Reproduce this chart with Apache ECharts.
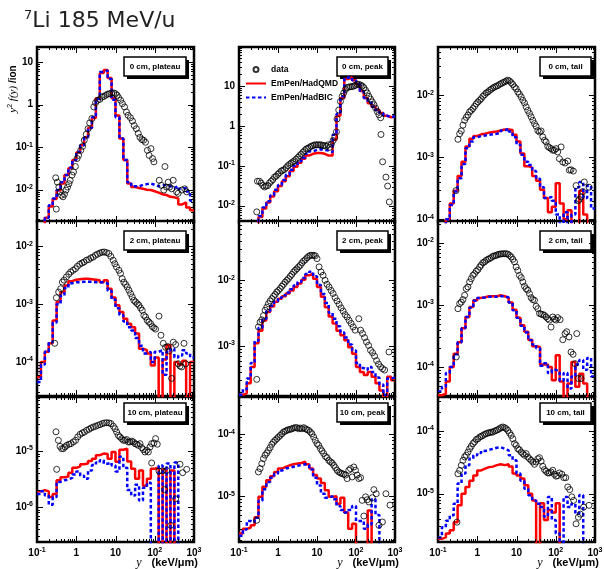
<!DOCTYPE html>
<html>
<head>
    <meta charset="utf-8">
    <title>7Li 185 MeV/u</title>
    <script src="https://cdn.jsdelivr.net/npm/echarts@6/dist/echarts.min.js"></script>
    <style>
        html, body { margin: 0; padding: 0; background: #fff; }
        #chart { width: 604px; height: 569px; }
    </style>
</head>
<body>
<div id="chart"></div>
<script type="text/javascript">
    // histogram bin edges (10 bins per decade, 0.1 .. 1000 keV/um)
    const edges = [0.1, 0.1259, 0.1585, 0.1995, 0.2512, 0.3162, 0.3981, 0.5012, 0.631, 0.7943,
        1, 1.259, 1.585, 1.995, 2.512, 3.162, 3.981, 5.012, 6.31, 7.943,
        10, 12.59, 15.85, 19.95, 25.12, 31.62, 39.81, 50.12, 63.1, 79.43,
        100, 125.9, 158.5, 199.5, 251.2, 316.2, 398.1, 501.2, 631, 794.3, 1000];

    // ---- 0 cm ----
    const qmd0Plateau = [0, 0, 2.2e-3, 4.0e-3, 6.0e-3, 9.5e-3, 0.014, 0.022, 0.032, 0.05,
        0.075, 0.11, 0.17, 0.28, 0.48, 1.4, 5.5, 6.5, 4.2, 1.4,
        0.55, 0.16, 0.05, 0.014, 0.0115, 0.011, 0.0105, 0.010, 0.0098, 0.0092,
        0.0085, 0.0078, 0.0075, 0.0068, 0.0066, 0.0062, 0.0045, 0.005, 0.0038, 0.0033];
    const bic0Plateau = [0, 0, 2.2e-3, 4.3e-3, 6.2e-3, 9.8e-3, 0.015, 0.022, 0.033, 0.05,
        0.078, 0.11, 0.17, 0.28, 0.5, 1.35, 5.8, 6.3, 4.0, 1.3,
        0.5, 0.16, 0.05, 0.015, 0.012, 0.012, 0.013, 0.0135, 0.014, 0.013,
        0.012, 0.0125, 0.013, 0.012, 0.011, 0.012, 0.0105, 0.011, 0.009, 0.0055];
    const data0Plateau = [[0.30,0.019],[0.31,0.0035],[0.33,0.015],[0.36,0.0115],[0.39,0.0089],[0.42,0.0074],
        [0.46,0.0068],[0.50,0.0078],[0.55,0.0098],[0.60,0.0115],[0.65,0.0138],[0.70,0.0165],[0.78,0.022],
        [0.85,0.026],[0.95,0.035],[1.05,0.054],[1.15,0.064],[1.3,0.084],[1.45,0.104],[1.6,0.145],[1.8,0.20],
        [2.0,0.27],[2.2,0.37],[2.5,0.47],[2.8,0.88],[3.1,1.1],[3.5,1.26],[4.0,1.33],[4.5,1.5],[5.0,1.55],
        [5.6,1.65],[6.3,1.75],[7.0,1.8],[8.0,1.87],[9.0,1.87],[10,1.8],[11,1.65],[12,1.45],[13.5,1.26],
        [15,1.05],[17,0.88],[19,0.67],[21,0.56],[24,0.49],[27,0.41],[30,0.32],[34,0.27],[38,0.21],[42,0.17],
        [47,0.15],[52,0.145],[58,0.13],[65,0.084],[72,0.064],[80,0.092],[88,0.054],[95,0.045],[182,0.035],
        [130,0.0166],[148,0.0126],[170,0.0098],[200,0.0115],[220,0.015],[240,0.0115],[270,0.0105],
        [295,0.0166],[360,0.0089],[395,0.0082],[490,0.0098],[580,0.0105],[650,0.0089]];

    const qmd0Peak = [0, 0, 0, 0, 0, 0.0052, 0.0085, 0.012, 0.017, 0.023,
        0.031, 0.041, 0.055, 0.074, 0.095, 0.12, 0.15, 0.18, 0.20, 0.21,
        0.21, 0.20, 0.18, 0.18, 0.45, 1.8, 5.0, 15, 16.5, 14,
        11, 7.5, 5.0, 3.7, 3.0, 2.5, 2.1, 1.8, 1.65, 1.7];
    const bic0Peak = [0, 0, 0, 0, 0, 0.0055, 0.009, 0.013, 0.018, 0.025,
        0.033, 0.044, 0.06, 0.08, 0.10, 0.13, 0.16, 0.20, 0.23, 0.25,
        0.26, 0.25, 0.24, 0.22, 0.6, 2.0, 5.5, 16, 16.5, 14,
        11, 7.2, 5.0, 3.8, 3.0, 2.5, 2.1, 1.8, 1.65, 1.75];
    const data0Peak = [[0.285,0.007],[0.296,0.041],[0.334,0.041],[0.369,0.037],[0.407,0.032],[0.449,0.0295],
        [0.496,0.031],[0.547,0.032],[0.604,0.037],[0.667,0.041],[0.736,0.045],[0.813,0.052],[0.897,0.055],
        [0.99,0.061],[1.09,0.067],[1.21,0.074],[1.33,0.077],[1.47,0.081],[1.62,0.09],[1.79,0.10],[1.98,0.109],
        [2.18,0.117],[2.41,0.126],[2.66,0.134],[2.94,0.147],[3.24,0.162],[3.58,0.18],[3.95,0.197],[4.36,0.218],
        [4.81,0.24],[5.31,0.264],[5.86,0.275],[6.47,0.292],[7.15,0.31],[7.89,0.32],[8.7,0.335],[9.6,0.335],
        [10.6,0.335],[11.7,0.335],[12.9,0.335],[14.3,0.32],[15.7,0.32],[17.4,0.31],[19.2,0.335],[21.2,0.29],
        [23.4,0.35],[25.8,0.43],[28.5,0.52],[31.5,0.71],[32.7,1.49],[36.1,2.5],[39.9,4.1],[44,5.5],[48.6,6.7],
        [53.7,8.2],[59.3,9.1],[65.3,9.4],[72.1,9.6],[79.6,9.6],[87.9,10],[97,10.4],[107,11],[118,11],[131,10.6],
        [144,10],[159,9.1],[176,7.8],[194,6.7],[214,5.5],[236,4.7],[261,4.0],[288,3.4],[318,2.8],[351,2.3],
        [387,1.9],[428,1.6],[437,0.61],[481,0.126],[586,0.052],[647,0.031],[715,0.0124]];

    const qmd0Tail = [0, 0, 1.0e-4, 1.8e-4, 2.9e-4, 5.0e-4, 8.5e-4, 1.5e-3, 2.0e-3, 2.2e-3,
        2.35e-3, 2.4e-3, 2.5e-3, 2.55e-3, 2.6e-3, 2.7e-3, 2.8e-3, 2.8e-3, 2.75e-3, 2.3e-3,
        1.8e-3, 1.15e-3, 7.2e-4, 6.8e-4, 5.0e-4, 4.2e-4, 3.0e-4, 2.2e-4, 1.3e-4, 1.6e-4,
        3.8e-4, 1.8e-4, 1.0e-4, 1.4e-4, 0, 0, 2.9e-4, 1.2e-4, 0, 0];
    const bic0Tail = [0, 0, 1.0e-4, 1.7e-4, 2.8e-4, 4.6e-4, 7.8e-4, 1.4e-3, 1.8e-3, 2.1e-3,
        2.2e-3, 2.25e-3, 2.3e-3, 2.35e-3, 2.4e-3, 2.5e-3, 2.7e-3, 2.9e-3, 2.6e-3, 2.1e-3,
        1.6e-3, 1.1e-3, 8.5e-4, 7.5e-4, 6.0e-4, 4.5e-4, 3.3e-4, 2.2e-4, 2.3e-4, 2.0e-4,
        1.2e-4, 0, 1.3e-4, 0, 1.2e-4, 3.3e-4, 4.0e-4, 2.2e-4, 3.5e-4, 1.5e-4];
    const data0Tail = [[0.287,2.9e-4],[0.322,1.95e-3],[0.356,2.4e-3],[0.392,2.66e-3],[0.432,3.3e-3],[0.477,3.95e-3],
        [0.525,4.4e-3],[0.579,4.8e-3],[0.638,5.4e-3],[0.703,5.7e-3],[0.776,6.1e-3],[0.855,6.65e-3],[0.944,7.3e-3],
        [1.04,7.8e-3],[1.15,8.3e-3],[1.26,8.8e-3],[1.39,9.6e-3],[1.54,1.02e-2],[1.69,1.09e-2],[1.87,1.13e-2],
        [2.06,1.2e-2],[2.27,1.25e-2],[2.5,1.31e-2],[2.76,1.36e-2],[3.04,1.4e-2],[3.35,1.43e-2],[3.7,1.5e-2],
        [4.07,1.54e-2],[4.49,1.6e-2],[4.95,1.64e-2],[5.46,1.7e-2],[6.02,1.75e-2],[6.64,1.7e-2],[7.32,1.6e-2],
        [8.07,1.49e-2],[8.9,1.36e-2],[9.8,1.28e-2],[10.8,1.13e-2],[11.9,1.04e-2],[13.2,9.4e-3],[14.5,8.3e-3],
        [16.0,7.5e-3],[17.6,6.5e-3],[19.4,5.7e-3],[21.4,5.1e-3],[23.6,4.5e-3],[26,3.95e-3],[28.7,3.5e-3],
        [31.6,3.16e-3],[34.9,2.7e-3],[38.5,2.56e-3],[42.4,2.66e-3],[46.7,2.13e-3],[51.5,1.88e-3],[56.8,1.77e-3],
        [62.6,1.5e-3],[69,1.43e-3],[76,1.38e-3],[83.9,1.3e-3],[92.5,1.3e-3],[102,1.38e-3],[112,1.22e-3],
        [124,9.5e-4],[137,1.47e-3],[151,8.4e-4],[173,8.1e-4],[202,8.7e-4],[222,6.2e-4],[245,6.3e-4],[281,6.0e-4],
        [329,3.5e-4],[377,2.0e-4],[400,2.1e-4],[441,2.3e-4],[486,2.8e-4],[535,4.0e-4],[703,3.3e-4]];

    // ---- 2 cm ----
    const qmd2Plateau = [5.5e-5, 1.0e-4, 1.5e-4, 2.1e-4, 5.2e-4, 1.1e-3, 1.6e-3, 2.1e-3, 2.5e-3, 2.65e-3,
        2.7e-3, 2.75e-3, 2.75e-3, 2.7e-3, 2.65e-3, 2.6e-3, 2.4e-3, 2.6e-3, 1.85e-3, 1.3e-3,
        9.6e-4, 7.3e-4, 5.6e-4, 4.6e-4, 4.0e-4, 3.1e-4, 1.7e-4, 1.6e-4, 1.4e-4, 8.7e-5,
        1.2e-4, 0, 1.1e-4, 1.95e-4, 0, 1.0e-4, 9.0e-5, 1.05e-4, 0, 1.0e-4];
    const bic2Plateau = [4.5e-5, 9.0e-5, 1.5e-4, 2.2e-4, 4.8e-4, 1.0e-3, 1.4e-3, 1.9e-3, 2.3e-3, 2.4e-3,
        2.4e-3, 2.45e-3, 2.45e-3, 2.45e-3, 2.4e-3, 2.4e-3, 2.4e-3, 2.3e-3, 1.7e-3, 1.2e-3,
        8.5e-4, 6.5e-4, 5.0e-4, 4.0e-4, 3.5e-4, 2.6e-4, 1.9e-4, 1.4e-4, 1.5e-4, 1.0e-4,
        1.5e-4, 1.6e-4, 6.0e-5, 1.5e-4, 1.7e-4, 1.2e-4, 1.3e-4, 1.6e-4, 1.4e-4, 1.2e-4];
    const data2Plateau = [[0.283,2.1e-4],[0.312,1.29e-3],[0.357,1.62e-3],[0.402,1.85e-3],[0.443,2.4e-3],[0.489,2.6e-3],
        [0.561,2.95e-3],[0.644,3.3e-3],[0.724,3.6e-3],[0.83,3.85e-3],[0.952,4.1e-3],[1.07,4.5e-3],[1.23,4.9e-3],
        [1.41,5.15e-3],[1.58,5.35e-3],[1.82,5.75e-3],[2.09,5.9e-3],[2.35,6.3e-3],[2.69,6.5e-3],[3.08,7.0e-3],
        [3.47,7.3e-3],[3.98,7.65e-3],[4.57,7.9e-3],[5.14,7.98e-3],[5.89,7.8e-3],[6.76,7.5e-3],[7.6,6.7e-3],
        [8.72,5.75e-3],[9.6,5.0e-3],[10.6,4.4e-3],[12.2,3.85e-3],[13.4,3.4e-3],[14.8,2.76e-3],[16.3,2.4e-3],
        [18.0,2.2e-3],[19.9,1.98e-3],[21.9,1.74e-3],[24.2,1.52e-3],[26.7,1.33e-3],[29.4,1.16e-3],[32.4,1.09e-3],
        [35.7,1.02e-3],[39.5,9.6e-4],[43.5,8.6e-4],[48,7.8e-4],[52.9,6.4e-4],[58.3,6.0e-4],[64.4,5.25e-4],
        [71,4.9e-4],[78.3,4.6e-4],[86.4,4.1e-4],[95.3,3.9e-4],[105,3.7e-4],[128,6.2e-4],[144,2.9e-4],[165,2.1e-4],
        [189,1.8e-4],[213,1.85e-4],[234,1.55e-4],[269,5.2e-5],[297,2.2e-4],[340,2.0e-4],[398,9.3e-5],[440,8.5e-5],
        [484,8.2e-5],[556,2.1e-4],[613,9.3e-5]];

    const qmd2Peak = [1.8e-4, 1.9e-4, 2.7e-4, 4.8e-4, 1.1e-3, 1.7e-3, 2.45e-3, 3.3e-3, 4.0e-3, 4.7e-3,
        5.25e-3, 5.7e-3, 6.3e-3, 7.0e-3, 7.9e-3, 8.9e-3, 1.02e-2, 1.19e-2, 1.26e-2, 1.06e-2,
        7.9e-3, 5.6e-3, 3.9e-3, 2.8e-3, 2.2e-3, 1.7e-3, 1.45e-3, 1.22e-3, 9.6e-4, 7.6e-4,
        4.8e-4, 4.0e-4, 3.6e-4, 4.0e-4, 3.4e-4, 2.7e-4, 2.1e-4, 0, 3.4e-4, 3.0e-4];
    const bic2Peak = [1.8e-4, 2.2e-4, 3.2e-4, 5.5e-4, 1.2e-3, 1.9e-3, 2.6e-3, 3.4e-3, 4.1e-3, 4.8e-3,
        5.4e-3, 5.9e-3, 6.5e-3, 7.3e-3, 8.3e-3, 9.4e-3, 1.08e-2, 1.25e-2, 1.35e-2, 1.15e-2,
        8.5e-3, 6.2e-3, 4.5e-3, 3.2e-3, 2.6e-3, 2.0e-3, 1.6e-3, 1.35e-3, 1.05e-3, 8.5e-4,
        5.5e-4, 4.6e-4, 4.3e-4, 4.8e-4, 4.0e-4, 3.3e-4, 2.6e-4, 1.8e-4, 3.2e-4, 3.3e-4];
    const data2Peak = [[0.285,3.1e-4],[0.315,1.95e-3],[0.347,2.3e-3],[0.384,2.5e-3],[0.423,2.9e-3],[0.467,3.5e-3],
        [0.516,3.9e-3],[0.569,4.4e-3],[0.628,4.85e-3],[0.694,5.25e-3],[0.766,5.7e-3],[0.845,6.1e-3],[0.933,6.65e-3],
        [1.03,7.0e-3],[1.14,7.5e-3],[1.26,8.1e-3],[1.39,8.7e-3],[1.53,9.4e-3],[1.69,1.0e-2],[1.86,1.06e-2],
        [2.06,1.15e-2],[2.27,1.23e-2],[2.51,1.34e-2],[2.77,1.42e-2],[3.05,1.5e-2],[3.37,1.6e-2],[3.72,1.69e-2],
        [4.11,1.84e-2],[4.54,1.97e-2],[5.01,2.06e-2],[5.53,2.2e-2],[6.1,2.32e-2],[6.73,2.4e-2],[7.43,2.4e-2],
        [8.2,2.4e-2],[9.06,2.37e-2],[10,2.14e-2],[11.3,1.6e-2],[12.7,1.34e-2],[14.3,1.19e-2],[16.1,1.0e-2],
        [18.1,8.7e-3],[20.4,7.9e-3],[23,7.0e-3],[25.8,6.3e-3],[29.1,5.45e-3],[32.7,4.85e-3],[36.9,4.3e-3],
        [41.5,3.8e-3],[46.8,3.4e-3],[52.6,3.0e-3],[59.3,2.76e-3],[66.7,2.45e-3],[75.1,2.2e-3],[84.5,1.95e-3],
        [95.3,1.74e-3],[118,2.6e-3],[131,1.74e-3],[147,1.55e-3],[166,1.34e-3],[186,1.15e-3],[210,1.02e-3],
        [236,8.6e-4],[266,7.9e-4],[299,7.0e-4],[337,6.0e-4],[379,5.3e-4],[428,4.8e-4],[481,4.5e-4],[542,4.3e-4],
        [700,8.1e-4]];

    const qmd2Tail = [3.5e-5, 3.7e-5, 5.8e-5, 1.0e-4, 1.64e-4, 2.5e-4, 4.2e-4, 6.4e-4, 9.3e-4, 1.19e-3,
        1.3e-3, 1.33e-3, 1.38e-3, 1.38e-3, 1.38e-3, 1.43e-3, 1.38e-3, 1.3e-3, 1.1e-3, 8.4e-4,
        6.2e-4, 4.7e-4, 3.7e-4, 2.75e-4, 2.15e-4, 2.1e-4, 1.1e-4, 1.1e-4, 1.0e-4, 6.1e-5,
        1.55e-4, 5.8e-5, 0, 5.4e-5, 1.2e-4, 4.8e-5, 7.8e-5, 5.4e-5, 0, 0];
    const bic2Tail = [4.0e-5, 4.8e-5, 8.0e-5, 1.0e-4, 1.6e-4, 2.5e-4, 4.2e-4, 6.4e-4, 9.0e-4, 1.17e-3,
        1.3e-3, 1.32e-3, 1.35e-3, 1.35e-3, 1.35e-3, 1.38e-3, 1.38e-3, 1.32e-3, 1.1e-3, 8.2e-4,
        6.2e-4, 4.6e-4, 3.6e-4, 2.7e-4, 2.3e-4, 2.0e-4, 1.05e-4, 1.15e-4, 8.0e-5, 9.0e-5,
        8.5e-5, 6.0e-5, 8.0e-5, 4.5e-5, 7.0e-5, 1.1e-4, 1.3e-4, 9.0e-5, 1.4e-4, 7.0e-5];
    const data2Tail = [[0.292,1.45e-4],[0.322,8.7e-4],[0.356,1.05e-3],[0.392,1.11e-3],[0.432,1.22e-3],[0.477,1.43e-3],
        [0.525,1.83e-3],[0.579,1.95e-3],[0.638,2.35e-3],[0.703,2.65e-3],[0.776,3.0e-3],[0.855,3.2e-3],[0.944,3.5e-3],
        [1.04,3.7e-3],[1.15,4.1e-3],[1.26,4.4e-3],[1.39,4.8e-3],[1.54,4.95e-3],[1.69,5.25e-3],[1.87,5.45e-3],
        [2.06,5.6e-3],[2.27,5.8e-3],[2.5,6.1e-3],[2.76,6.2e-3],[3.04,6.3e-3],[3.35,6.5e-3],[3.7,6.6e-3],
        [4.07,6.65e-3],[4.49,6.7e-3],[4.95,6.7e-3],[5.46,6.7e-3],[6.02,6.6e-3],[6.64,6.3e-3],[7.32,5.95e-3],
        [8.07,5.45e-3],[8.9,4.95e-3],[9.8,4.1e-3],[10.8,3.6e-3],[11.9,3.0e-3],[13.2,2.75e-3],[14.5,2.35e-3],
        [16.0,2.0e-3],[17.6,1.83e-3],[19.4,1.73e-3],[21.4,1.52e-3],[23.6,1.31e-3],[26,1.22e-3],[28.7,1.19e-3],
        [31.6,9.5e-4],[34.9,8.7e-4],[38.5,7.3e-4],[42.4,7.1e-4],[46.7,7.0e-4],[51.5,6.8e-4],[56.8,6.4e-4],
        [62.6,6.0e-4],[69,5.7e-4],[76,4.4e-4],[84,6.4e-4],[92.5,5.9e-4],[102,5.7e-4],[112,6.25e-4],[129,5.8e-4],
        [151,2.75e-4],[173,3.45e-4],[190,3.7e-4],[218,3.05e-4],[245,1.74e-4],[276,1.6e-4],[311,1.13e-4],
        [343,3.45e-4],[377,6.5e-5],[440,6.5e-5]];

    // ---- 10 cm ----
    const qmd10Plateau = [1.9e-6, 2.0e-6, 1.9e-6, 1.5e-6, 1.7e-6, 3.0e-6, 3.4e-6, 3.5e-6, 4.1e-6, 5.0e-6,
        5.3e-6, 5.8e-6, 6.0e-6, 6.6e-6, 7.3e-6, 8.4e-6, 9.0e-6, 8.8e-6, 7.3e-6, 9.6e-6,
        6.4e-6, 1.05e-5, 1.1e-5, 6.5e-6, 4.8e-6, 3.2e-6, 4.5e-6, 2.4e-6, 3.2e-6, 4.8e-6,
        5.0e-6, 0, 4.7e-6, 0, 4.5e-6, 0, 0, 0, 0, 0];
    const bic10Plateau = [1.7e-6, 1.9e-6, 1.6e-6, 1.1e-6, 1.5e-6, 2.8e-6, 3.0e-6, 3.1e-6, 3.3e-6, 3.8e-6,
        4.3e-6, 3.6e-6, 3.2e-6, 4.5e-6, 5.6e-6, 6.2e-6, 6.8e-6, 5.9e-6, 6.2e-6, 5.5e-6,
        4.3e-6, 7.9e-6, 5.0e-6, 2.0e-6, 1.6e-6, 2.5e-6, 1.3e-6, 2.2e-6, 2.7e-6, 0,
        0, 5.5e-6, 0, 6.0e-6, 0, 6.2e-6, 0, 0, 0, 0];
    const data10Plateau = [[0.305,2.2e-5],[0.317,4.7e-6],[0.35,1.55e-5],[0.386,1.21e-5],[0.425,1.1e-5],[0.469,1.1e-5],
        [0.517,1.18e-5],[0.57,1.26e-5],[0.653,1.32e-5],[0.735,1.35e-5],[0.843,1.45e-5],[0.966,1.55e-5],[1.09,1.78e-5],
        [1.25,1.98e-5],[1.43,2.1e-5],[1.61,2.18e-5],[1.84,2.34e-5],[2.11,2.44e-5],[2.38,2.57e-5],[2.72,2.68e-5],
        [3.13,2.76e-5],[3.52,2.87e-5],[4.03,2.95e-5],[4.62,3.08e-5],[5.19,3.16e-5],[5.96,3.2e-5],[6.83,3.16e-5],
        [7.68,3.08e-5],[8.81,2.76e-5],[9.71,2.5e-5],[10.7,2.18e-5],[11.8,1.9e-5],[13.0,1.78e-5],[14.4,1.66e-5],
        [15.8,1.55e-5],[17.5,1.55e-5],[19.3,1.6e-5],[21.2,1.45e-5],[23.4,1.45e-5],[25.8,1.5e-5],[28.5,1.45e-5],
        [31.4,1.35e-5],[34.6,1.32e-5],[38.2,1.26e-5],[42.1,1.35e-5],[46.4,1.15e-5],[51.2,1.06e-5],[56.5,9.6e-6],
        [62.2,1.03e-5],[68.7,9.6e-6],[75.7,1.18e-5],[83.4,1.35e-5],[95.7,1.39e-5],[105,1.66e-5],[116,1.32e-5],
        [83.4,6.1e-6],[128,4.4e-6],[156,4.4e-6],[179,2.04e-6],[201,4.5e-6],[255,4.7e-7],[341,1.4e-6],[440,5.8e-6],
        [514,4.1e-6],[650,4.7e-6]];

    const qmd10Peak = [2.5e-6, 3.0e-6, 3.1e-6, 3.4e-6, 4.6e-6, 9.8e-6, 1.42e-5, 1.82e-5, 2.1e-5, 2.46e-5,
        2.8e-5, 2.98e-5, 3.16e-5, 3.3e-5, 3.37e-5, 3.45e-5, 3.6e-5, 3.3e-5, 2.8e-5, 2.2e-5,
        1.93e-5, 1.64e-5, 1.25e-5, 9.8e-6, 1.0e-5, 7.6e-6, 9.5e-6, 5.5e-6, 3.0e-6, 3.6e-6,
        0, 0, 0, 5.9e-6, 0, 0, 0, 0, 0, 0];
    const bic10Peak = [2.3e-6, 2.9e-6, 4.0e-6, 3.8e-6, 4.5e-6, 8.5e-6, 1.3e-5, 1.7e-5, 2.0e-5, 2.3e-5,
        2.6e-5, 2.8e-5, 2.9e-5, 3.0e-5, 3.1e-5, 3.2e-5, 3.3e-5, 3.2e-5, 2.7e-5, 2.0e-5,
        1.5e-5, 1.1e-5, 9.5e-6, 1.0e-5, 9.0e-6, 7.0e-6, 6.0e-6, 5.5e-6, 6.0e-6, 7.0e-6,
        4.0e-6, 4.0e-6, 3.0e-6, 3.5e-6, 9.0e-6, 5.0e-6, 0, 0, 0, 0];
    const data10Peak = [[0.285,4.1e-6],[0.315,2.47e-5],[0.347,2.8e-5],[0.384,3.37e-5],[0.423,4.05e-5],[0.467,4.6e-5],
        [0.516,5.0e-5],[0.569,5.5e-5],[0.628,6.1e-5],[0.694,6.9e-5],[0.766,7.5e-5],[0.845,8.0e-5],[0.933,8.5e-5],
        [1.03,9.05e-5],[1.14,9.6e-5],[1.26,1.02e-4],[1.39,1.09e-4],[1.53,1.12e-4],[1.69,1.16e-4],[1.86,1.19e-4],
        [2.06,1.2e-4],[2.27,1.23e-4],[2.51,1.26e-4],[2.77,1.28e-4],[3.05,1.28e-4],[3.37,1.23e-4],[3.72,1.26e-4],
        [4.11,1.23e-4],[4.54,1.28e-4],[5.01,1.23e-4],[5.53,1.19e-4],[6.1,1.16e-4],[6.73,1.09e-4],[7.43,1.02e-4],
        [8.2,9.05e-5],[9.06,8.0e-5],[10,7.1e-5],[11,6.65e-5],[12.2,5.9e-5],[13.4,5.4e-5],[14.8,4.9e-5],[16.4,4.4e-5],
        [18.1,4.2e-5],[20,3.8e-5],[22.1,3.6e-5],[24.4,3.45e-5],[26.9,3.16e-5],[29.7,2.9e-5],[32.7,2.63e-5],
        [36.2,2.47e-5],[39.9,2.38e-5],[44,2.32e-5],[48.6,2.27e-5],[53.7,2.2e-5],[59.3,1.93e-5],[65.3,2.63e-5],
        [72.1,2.8e-5],[79.6,2.05e-5],[87.9,2.97e-5],[97,2.63e-5],[107,2.2e-5],[118,1.93e-5],[131,2.0e-5],
        [144,8.6e-6],[159,4.8e-6],[176,9.8e-6],[194,8.8e-6],[214,8.1e-6],[261,9.5e-6],[288,1.28e-5],[330,1.1e-5],
        [387,3.4e-6],[475,3.85e-6],[585,1.1e-5],[745,7.2e-6]];

    const qmd10Tail = [1.9e-6, 2.0e-6, 2.3e-6, 2.6e-6, 3.5e-6, 6.5e-6, 1.0e-5, 1.28e-5, 1.6e-5, 1.95e-5,
        2.35e-5, 2.5e-5, 2.65e-5, 2.7e-5, 2.85e-5, 2.95e-5, 2.85e-5, 2.95e-5, 2.7e-5, 2.1e-5,
        1.95e-5, 1.74e-5, 1.36e-5, 1.0e-5, 7.8e-6, 0, 7.0e-6, 3.8e-6, 5.5e-6, 5.0e-6,
        7.0e-6, 0, 0, 0, 0, 0, 0, 0, 0, 0];
    const bic10Tail = [2.0e-6, 2.9e-6, 3.7e-6, 4.5e-6, 6.9e-6, 1.45e-5, 2.1e-5, 2.85e-5, 3.6e-5, 4.1e-5,
        4.45e-5, 4.8e-5, 5.0e-5, 5.2e-5, 5.4e-5, 5.5e-5, 5.2e-5, 4.9e-5, 4.1e-5, 3.4e-5,
        2.1e-5, 1.6e-5, 1.2e-5, 9.4e-6, 7.8e-6, 6.9e-6, 6.1e-6, 4.3e-6, 8.8e-6, 3.8e-6,
        2.3e-6, 0, 8.8e-6, 6.1e-6, 6.9e-6, 4.8e-6, 9.5e-6, 0, 0, 0];
    const data10Tail = [[0.304,3.5e-6],[0.322,2.08e-5],[0.356,2.35e-5],[0.392,2.83e-5],[0.432,3.4e-5],[0.477,3.85e-5],
        [0.525,4.1e-5],[0.579,4.6e-5],[0.638,5.2e-5],[0.703,5.7e-5],[0.776,6.3e-5],[0.855,6.7e-5],[0.944,7.3e-5],
        [1.04,7.5e-5],[1.15,8.0e-5],[1.26,8.2e-5],[1.39,8.5e-5],[1.54,8.85e-5],[1.69,9.05e-5],[1.87,9.3e-5],
        [2.06,9.4e-5],[2.27,9.6e-5],[2.5,9.6e-5],[2.76,1.0e-4],[3.04,1.02e-4],[3.35,1.05e-4],[3.7,1.09e-4],
        [4.07,1.13e-4],[4.49,1.16e-4],[4.95,1.13e-4],[5.46,1.09e-4],[6.02,1.02e-4],[6.64,9.3e-5],[7.32,8.5e-5],
        [8.07,7.5e-5],[8.9,6.3e-5],[9.8,5.9e-5],[10.8,5.2e-5],[11.9,5.0e-5],[13.2,4.6e-5],[14.5,4.35e-5],
        [16.0,4.1e-5],[17.6,4.35e-5],[19.4,3.85e-5],[21.4,3.6e-5],[23.6,3.4e-5],[26,3.2e-5],[28.7,2.94e-5],
        [31.6,3.2e-5],[34.9,3.6e-5],[38.5,3.75e-5],[42.4,3.3e-5],[46.7,2.73e-5],[51.5,2.42e-5],[56.8,2.27e-5],
        [62.6,2.14e-5],[69,2.14e-5],[76,2.22e-5],[84,2.36e-5],[92.5,2.04e-5],[102,1.9e-5],[112,1.94e-5],
        [124,2.14e-5],[143,2.04e-5],[160,1.8e-5],[180,1.8e-5],[202,1.28e-5],[227,1.16e-5],[256,8.9e-6],
        [286,7.8e-6],[329,3.3e-6],[377,4.2e-6],[424,4.7e-6],[515,6.1e-6],[703,6.5e-6]];

    const panelNames = ['0 cm, plateau', '0 cm, peak', '0 cm, tail',
        '2 cm, plateau', '2 cm, peak', '2 cm, tail',
        '10 cm, plateau', '10 cm, peak', '10 cm, tail'];
    const yMin = [1.74e-3, 3.9e-3, 9.06e-5, 2.58e-5, 1.73e-4, 3.4e-5, 2.37e-7, 1.83e-6, 1.69e-6];
    const yMax = [22.5, 95, 0.060, 0.0274, 0.080, 0.0226, 9.2e-5, 4.0e-4, 3.49e-4];
    const dataSets = [data0Plateau, data0Peak, data0Tail, data2Plateau, data2Peak, data2Tail, data10Plateau, data10Peak, data10Tail];
    const qmdSets = [qmd0Plateau, qmd0Peak, qmd0Tail, qmd2Plateau, qmd2Peak, qmd2Tail, qmd10Plateau, qmd10Peak, qmd10Tail];
    const bicSets = [bic0Plateau, bic0Peak, bic0Tail, bic2Plateau, bic2Peak, bic2Tail, bic10Plateau, bic10Peak, bic10Tail];

    // tick marks (ROOT style: major at decades, minor at 2..9)
    const xMajor = [0.1, 1, 10, 100, 1000];
    const minorSteps = [2, 3, 4, 5, 6, 7, 8, 9];

    // layout
    const colLeft = [37, 239, 438], colWidth = [157, 156, 157];
    const rowTop = [47, 221, 397], rowHeight = [175, 175, 145];
    const boxDx = [87, 98, 102], boxW = [62, 51, 51], boxDy = [10, 10, 6];

    const FONT = "'Liberation Sans', Arial, sans-serif";
    const labelRich = {
        b: {fontSize: 10, fontWeight: 'bold', fontFamily: FONT, color: '#000', lineHeight: 12},
        s: {fontSize: 7, fontWeight: 'bold', fontFamily: FONT, color: '#000', verticalAlign: 'top', lineHeight: 12}
    };

    function powLabel(v) {
        const n = Math.round(Math.log10(v));
        if (n === 0) return '{b|1}';
        if (n === 1) return '{b|10}';
        return '{b|10}{s|' + n + '}';
    }

    function histPoints(vals) {
        const pts = [];
        for (let i = 0; i < vals.length; i++) {
            pts.push([edges[i], vals[i] > 0 ? vals[i] : 1e-12]);
        }
        const last = vals[vals.length - 1];
        pts.push([edges[vals.length], last > 0 ? last : 1e-12]);
        return pts;
    }

    function tickData(g) {
        const lo = yMin[g], hi = yMax[g];
        const yRef = Math.sqrt(lo * hi);
        const out = [];
        xMajor.forEach(function (x) { out.push([x, yRef, 0]); });
        for (let d = -1; d < 3; d++) {
            minorSteps.forEach(function (k) { out.push([k * Math.pow(10, d), yRef, 1]); });
        }
        for (let d = Math.floor(Math.log10(lo)); d <= Math.ceil(Math.log10(hi)); d++) {
            const p = Math.pow(10, d);
            if (p >= lo && p <= hi) out.push([1, p, 2]);
            minorSteps.forEach(function (k) {
                const v = k * p;
                if (v >= lo && v <= hi) out.push([1, v, 3]);
            });
        }
        return out;
    }

    function renderTicks(params, api) {
        const cs = params.coordSys;
        const kind = api.value(2);
        const p = api.coord([api.value(0), api.value(1)]);
        const len = (kind === 0 || kind === 2) ? 6 : 3;
        const style = {stroke: '#000', lineWidth: 1};
        if (kind < 2) {
            const x = Math.round(p[0]) + 0.5;
            if (x < cs.x + 1.5 || x > cs.x + cs.width - 1.5) return;
            return {type: 'group', children: [
                {type: 'line', shape: {x1: x, y1: cs.y + cs.height, x2: x, y2: cs.y + cs.height - len}, style: style},
                {type: 'line', shape: {x1: x, y1: cs.y, x2: x, y2: cs.y + len}, style: style}
            ]};
        }
        const y = Math.round(p[1]) + 0.5;
        if (y < cs.y + 1.5 || y > cs.y + cs.height - 1.5) return;
        return {type: 'group', children: [
            {type: 'line', shape: {x1: cs.x, y1: y, x2: cs.x + len, y2: y}, style: style},
            {type: 'line', shape: {x1: cs.x + cs.width, y1: y, x2: cs.x + cs.width - len, y2: y}, style: style}
        ]};
    }

    const grid = [], xAxis = [], yAxis = [], series = [], graphic = [];

    for (let g = 0; g < 9; g++) {
        const r = Math.floor(g / 3), c = g % 3;
        grid.push({
            left: colLeft[c], top: rowTop[r], width: colWidth[c], height: rowHeight[r],
            show: true, borderColor: '#000', borderWidth: 2.5, backgroundColor: '#fff',
            containLabel: false, outerBoundsMode: 'none'
        });
        xAxis.push({
            type: 'log', logBase: 10, gridIndex: g, min: 0.1, max: 1000,
            axisLine: {show: false}, axisTick: {show: false}, splitLine: {show: false},
            axisLabel: {show: r === 2, margin: 5, formatter: powLabel, rich: labelRich}
        });
        yAxis.push({
            type: 'log', logBase: 10, gridIndex: g, min: yMin[g], max: yMax[g],
            axisLine: {show: false}, axisTick: {show: false}, splitLine: {show: false},
            axisLabel: {show: true, margin: 4, showMinLabel: false, showMaxLabel: false,
                formatter: powLabel, rich: labelRich}
        });
        series.push({
            name: 'EmPen/HadQMD', type: 'line', step: 'end', xAxisIndex: g, yAxisIndex: g,
            data: histPoints(qmdSets[g]), symbol: 'none', clip: true, z: 2,
            itemStyle: {color: '#ff0000'},
            lineStyle: {color: '#ff0000', width: 2.5}
        });
        series.push({
            name: 'EmPen/HadBIC', type: 'line', step: 'end', xAxisIndex: g, yAxisIndex: g,
            data: histPoints(bicSets[g]), symbol: 'none', clip: true, z: 3,
            itemStyle: {color: '#0000ff'},
            lineStyle: {color: '#0000ff', width: 2.5, type: [3.5, 2.5]}
        });
        series.push({
            name: 'data', type: 'scatter', xAxisIndex: g, yAxisIndex: g,
            data: dataSets[g], symbol: 'circle', symbolSize: 6, clip: true, z: 4,
            itemStyle: {color: 'rgba(0,0,0,0)', borderColor: '#000', borderWidth: 1}
        });
        series.push({
            type: 'custom', xAxisIndex: g, yAxisIndex: g, data: tickData(g),
            renderItem: renderTicks, silent: true, clip: false, z: 6,
            encode: {x: 0, y: 1}
        });

        // panel label box with shadow
        const bx = colLeft[c] + boxDx[c], by = rowTop[r] + boxDy[r];
        graphic.push({
            type: 'group', z: 100, children: [
                {type: 'rect', shape: {x: bx + 3, y: by + 3, width: boxW[c], height: 19}, style: {fill: '#000'}},
                {type: 'rect', shape: {x: bx, y: by, width: boxW[c], height: 19},
                    style: {fill: '#fff', stroke: '#000', lineWidth: 1.5}},
                {type: 'text', x: bx + boxW[c] / 2, y: by + 10,
                    style: {text: panelNames[g], fill: '#000', font: 'bold 8px ' + FONT,
                        align: 'center', verticalAlign: 'middle'}}
            ]
        });
    }

    // x-axis titles under the bottom row
    for (let c = 0; c < 3; c++) {
        graphic.push({
            type: 'text', x: colLeft[c] + colWidth[c] + 4, y: 563, z: 100,
            style: {
                text: '{i|y}   {b|(keV/\u03bcm)}', align: 'right', verticalAlign: 'middle',
                rich: {
                    i: {fontSize: 12, fontStyle: 'italic', fontFamily: "'Liberation Serif', serif", fill: '#000'},
                    b: {fontSize: 11, fontWeight: 'bold', fontFamily: FONT, fill: '#000'}
                }
            }
        });
    }

    // y-axis title
    graphic.push({
        type: 'text', x: 13, y: 89, rotation: Math.PI / 2, z: 100,
        style: {
            text: '{i|y}{s|2}{i| f(y)}{b| /ion}', align: 'center', verticalAlign: 'middle',
            rich: {
                i: {fontSize: 11, fontStyle: 'italic', fontFamily: "'Liberation Serif', serif", fill: '#000', lineHeight: 13},
                s: {fontSize: 7, fontFamily: FONT, fill: '#000', verticalAlign: 'top', lineHeight: 13},
                b: {fontSize: 10, fontWeight: 'bold', fontFamily: FONT, fill: '#000', lineHeight: 13}
            }
        }
    });

    // figure title
    graphic.push({
        type: 'text', x: 24, y: 21, z: 100,
        style: {
            text: '{s|7}{t|Li 185 MeV/u}', align: 'left', verticalAlign: 'middle',
            rich: {
                s: {fontSize: 13, fontFamily: "'DejaVu Sans', sans-serif", fill: '#222', verticalAlign: 'top', lineHeight: 24},
                t: {fontSize: 22, fontFamily: "'DejaVu Sans', sans-serif", fill: '#222', lineHeight: 24}
            }
        }
    });

    // legend line entries: hide the marker, keep only the line
    const noMarker = {color: 'rgba(0,0,0,0)', borderColor: 'rgba(0,0,0,0)', borderWidth: 0, opacity: 0};

    const myChart = echarts.init(document.getElementById('chart'), null, {renderer: 'canvas'});
    myChart.setOption({
        animation: false,
        backgroundColor: '#fff',
        legend: {
            left: 245, top: 65, orient: 'vertical', itemGap: 5, itemWidth: 20, itemHeight: 5, padding: 0,
            textStyle: {fontSize: 8.5, fontWeight: 'bold', fontFamily: FONT, color: '#000'},
            data: [
                {name: 'data', icon: 'circle'},
                {name: 'EmPen/HadQMD', icon: 'inherit', itemStyle: noMarker},
                {name: 'EmPen/HadBIC', icon: 'inherit', itemStyle: noMarker}
            ],
            selectedMode: false
        },
        grid: grid,
        xAxis: xAxis,
        yAxis: yAxis,
        series: series,
        graphic: graphic
    });
</script>
</body>
</html>
